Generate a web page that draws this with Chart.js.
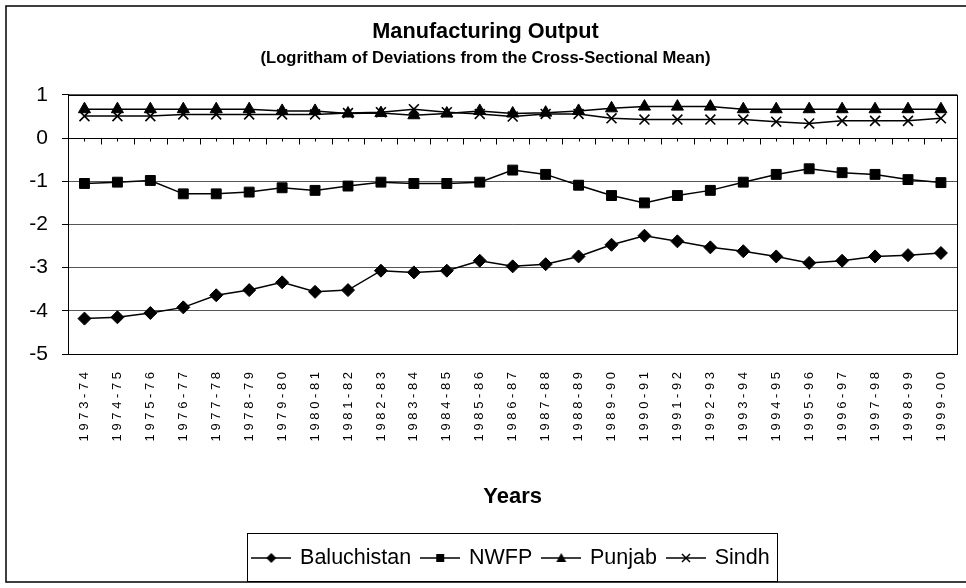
<!DOCTYPE html>
<html>
<head>
<meta charset="utf-8">
<script src="https://cdn.jsdelivr.net/npm/chart.js@4.4.1/dist/chart.umd.min.js"></script>
<style>
  html, body { margin: 0; padding: 0; background: #fff; }
</style>
</head>
<body>
<canvas id="myCanvas" width="966" height="588"></canvas>
<script>
// dados
const anos = ["1973-74", "1974-75", "1975-76", "1976-77", "1977-78", "1978-79", "1979-80", "1980-81", "1981-82",
  "1982-83", "1983-84", "1984-85", "1985-86", "1986-87", "1987-88", "1988-89", "1989-90", "1990-91", "1991-92",
  "1992-93", "1993-94", "1994-95", "1995-96", "1996-97", "1997-98", "1998-99", "1999-00"];

const baluchistan = [-4.18, -4.15, -4.05, -3.92, -3.64, -3.52, -3.34, -3.56, -3.52, -3.07, -3.11, -3.07, -2.84,
  -2.97, -2.92, -2.74, -2.47, -2.26, -2.39, -2.53, -2.62, -2.74, -2.89, -2.84, -2.74, -2.71, -2.66];

const nwfp = [-1.05, -1.02, -0.98, -1.29, -1.29, -1.25, -1.15, -1.21, -1.11, -1.02, -1.05, -1.05, -1.02,
  -0.74, -0.84, -1.09, -1.33, -1.50, -1.33, -1.21, -1.02, -0.84, -0.71, -0.80, -0.84, -0.96, -1.03];

const punjab = [0.67, 0.67, 0.67, 0.67, 0.67, 0.67, 0.63, 0.63, 0.57, 0.58, 0.53, 0.57, 0.63,
  0.57, 0.59, 0.63, 0.69, 0.73, 0.73, 0.73, 0.67, 0.67, 0.67, 0.67, 0.67, 0.67, 0.67];

const sindh = [0.51, 0.51, 0.51, 0.55, 0.55, 0.55, 0.55, 0.55, 0.58, 0.60, 0.67, 0.60, 0.56,
  0.50, 0.56, 0.56, 0.46, 0.43, 0.43, 0.43, 0.43, 0.38, 0.34, 0.40, 0.40, 0.40, 0.46];

const ticksY = [1, 0, -1, -2, -3, -4, -5];

const fonte = "'Liberation Sans', Arial, sans-serif";

// desenha o simbolo da legenda (linha + marcador)
function simboloLegenda(tipo) {
  const c = document.createElement('canvas');
  c.width = 40; c.height = 16;
  const g = c.getContext('2d');
  g.strokeStyle = '#000'; g.fillStyle = '#000'; g.lineWidth = 1.5;
  g.beginPath(); g.moveTo(0, 8); g.lineTo(40, 8); g.stroke();
  g.beginPath();
  if (tipo === 'losango') {
    g.moveTo(20, 3); g.lineTo(25, 8); g.lineTo(20, 13); g.lineTo(15, 8); g.closePath(); g.fill();
  } else if (tipo === 'quadrado') {
    g.fillRect(16, 4, 8, 8);
  } else if (tipo === 'triangulo') {
    g.moveTo(20, 3); g.lineTo(25, 12); g.lineTo(15, 12); g.closePath(); g.fill();
  } else {
    g.moveTo(16, 4); g.lineTo(24, 12); g.moveTo(24, 4); g.lineTo(16, 12); g.stroke();
  }
  return c;
}

const simbolos = [simboloLegenda('losango'), simboloLegenda('quadrado'), simboloLegenda('triangulo'), simboloLegenda('x')];

// marcas do eixo x sobre a linha do zero
const marcasEixo = {
  id: 'marcasEixo',
  beforeDatasetsDraw(chart) {
    const x = chart.scales.x, y = chart.scales.y, ctx = chart.ctx;
    const y0 = Math.round(y.getPixelForValue(0)) + 0.5;
    const meio = (x.getPixelForValue(1) - x.getPixelForValue(0)) / 2;
    ctx.save();
    ctx.strokeStyle = '#000'; ctx.lineWidth = 1;
    ctx.beginPath();
    anos.forEach((a, i) => {
      const px = Math.round(x.getPixelForValue(i)) + 0.5;
      ctx.moveTo(px, y0); ctx.lineTo(px, y0 + 3);
      if (i < anos.length - 1) {
        const pb = Math.round(x.getPixelForValue(i) + meio) + 0.5;
        ctx.moveTo(pb, y0); ctx.lineTo(pb, y0 + 6);
      }
    });
    ctx.stroke();
    ctx.restore();
  }
};

// legenda um pouco deslocada para a direita, como no original
const posLegenda = {
  id: 'posLegenda',
  afterLayout(chart) {
    const l = chart.legend;
    l.left += 26;
    l.right += 26;
  }
};

// bordas: grafico, area de plotagem e legenda
const molduras = {
  id: 'molduras',
  afterDraw(chart) {
    const ctx = chart.ctx, a = chart.chartArea;
    ctx.save();
    ctx.strokeStyle = '#000';
    ctx.lineWidth = 1;
    ctx.strokeRect(Math.round(a.left) + 0.5, Math.round(a.top) + 0.5, Math.round(a.right - a.left), Math.round(a.bottom - a.top));
    ctx.lineWidth = 1.5;
    ctx.strokeRect(6, 6, 990, 576);
    const hb = chart.legend.legendHitBoxes;
    if (hb && hb.length) {
      const esq = Math.min(...hb.map(h => h.left)) - 6;
      const dir = Math.max(...hb.map(h => h.left + h.width)) + 8;
      const topo = hb[0].top - 14;
      const base = hb[0].top + hb[0].height + 12;
      ctx.lineWidth = 1;
      ctx.strokeRect(Math.round(esq) + 0.5, Math.round(topo) + 0.5, Math.round(dir - esq), Math.round(base - topo));
    }
    ctx.restore();
  }
};

function serie(nome, dados, estilo, raio) {
  return {
    label: nome,
    data: dados,
    borderColor: '#000',
    backgroundColor: '#000',
    borderWidth: 1.5,
    pointStyle: estilo,
    pointRadius: raio,
    pointBorderWidth: estilo === 'crossRot' ? 1.6 : 1,
    pointBackgroundColor: '#000',
    pointBorderColor: '#000',
    tension: 0
  };
}

const dados = {
  labels: anos,
  datasets: [
    serie('Baluchistan', baluchistan, 'rectRot', 6.5),
    serie('NWFP', nwfp, 'rect', 7),
    serie('Punjab', punjab, 'triangle', 7),
    serie('Sindh', sindh, 'crossRot', 7)
  ]
};

const config = {
  type: 'line',
  data: dados,
  options: {
    responsive: false,
    animation: false,
    layout: { padding: { left: 8, right: 3, top: 0, bottom: 9.25 } },
    scales: {
      x: {
        type: 'category',
        offset: true,
        grid: { display: false },
        border: { display: false },
        ticks: {
          color: '#000',
          font: { family: fonte, size: 13 },
          maxRotation: 90,
          minRotation: 90,
          autoSkip: false,
          padding: 10,
          callback: function (v) { return this.getLabelForValue(v).split('').join(' '); }
        },
        title: {
          display: true,
          text: 'Years',
          color: '#000',
          font: { family: fonte, size: 22, weight: 'bold' },
          padding: { top: 0, bottom: 26 }
        },
        afterFit: (s) => { s.height = 182.25; s.paddingLeft = 0; s.paddingRight = 0; }
      },
      y: {
        min: -5,
        max: 1,
        afterBuildTicks: (s) => { s.ticks = ticksY.map(v => ({ value: v })); },
        grid: {
          color: (c) => (c.tick && c.tick.value === 0 ? '#000' : '#555'),
          tickLength: 6,
          tickColor: '#000'
        },
        border: { display: true, color: '#000', width: 1 },
        ticks: {
          color: '#000',
          font: { family: fonte, size: 21 },
          padding: 14
        },
        afterFit: (s) => { s.width = 60; }
      }
    },
    plugins: {
      title: {
        display: true,
        text: 'Manufacturing Output',
        color: '#000',
        font: { family: fonte, size: 21.7, weight: 'bold' },
        padding: { top: 19, bottom: 3 }
      },
      subtitle: {
        display: true,
        text: '(Logritham of Deviations from the Cross-Sectional Mean)',
        color: '#000',
        font: { family: fonte, size: 16.6, weight: 'bold' },
        padding: { top: 0, bottom: 27 }
      },
      legend: {
        display: true,
        position: 'bottom',
        labels: {
          color: '#000',
          font: { family: fonte, size: 21.5 },
          usePointStyle: true,
          pointStyleWidth: 36,
          boxHeight: 16,
          padding: 11,
          generateLabels: (chart) => chart.data.datasets.map((d, i) => ({
            text: d.label,
            pointStyle: simbolos[i],
            fillStyle: '#000',
            strokeStyle: '#000',
            lineWidth: 0,
            fontColor: '#000',
            datasetIndex: i
          }))
        }
      },
      tooltip: { enabled: false }
    }
  },
  plugins: [marcasEixo, posLegenda, molduras]
};

const ctx = document.getElementById('myCanvas').getContext('2d');
const myChart = new Chart(ctx, config);
</script>
</body>
</html>
